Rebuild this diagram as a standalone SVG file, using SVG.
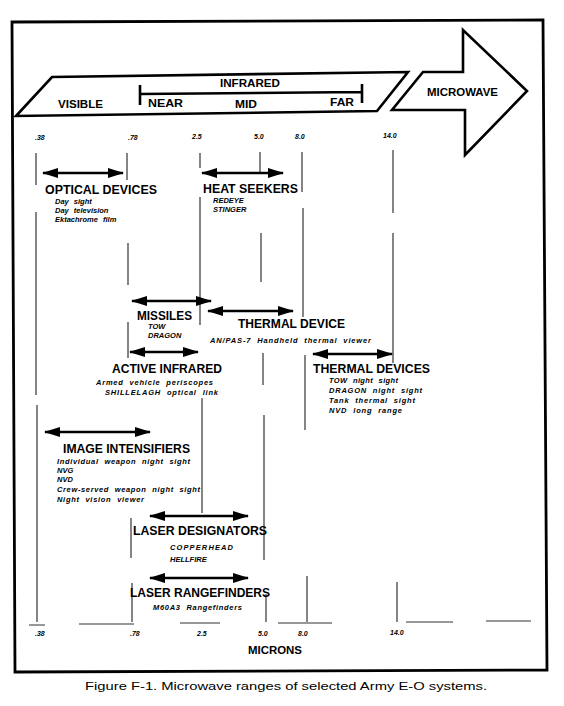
<svg xmlns="http://www.w3.org/2000/svg" width="564" height="706" viewBox="0 0 564 706">
<style>
.h{font-family:"Liberation Sans",Arial,sans-serif;font-weight:bold;font-size:12px;fill:#000}
.b{font-family:"Liberation Sans",Arial,sans-serif;font-weight:bold;font-size:11px;fill:#000}
.i{font-family:"Liberation Sans",Arial,sans-serif;font-weight:bold;font-style:italic;font-size:7.5px;word-spacing:3px;fill:#000}
.t{font-family:"Liberation Sans",Arial,sans-serif;font-weight:bold;font-style:italic;font-size:7px;fill:#000}
.cap{font-family:"Liberation Sans",Arial,sans-serif;font-size:11.5px;fill:#000}
.g{stroke:#222;stroke-width:1.1;fill:none}
.ax{stroke:#333;stroke-width:1.2;fill:none}
.arr{stroke:#000;stroke-width:2.6;fill:none;marker-start:url(#ah);marker-end:url(#ah)}
.shape{fill:#fff;stroke:#000;stroke-width:2.6;stroke-linejoin:miter}
</style>
<defs>
<marker id="ah" viewBox="0 0 16 10" refX="15" refY="5" markerWidth="16" markerHeight="10" markerUnits="userSpaceOnUse" orient="auto-start-reverse">
<path d="M0,0 L16,5 L0,10 z" fill="#000"/>
</marker>
</defs>
<rect width="564" height="706" fill="#fff"/>

<g id="frame">
<polygon points="12,22 543,20 547,670 15,672" fill="none" stroke="#000" stroke-width="2.8"/>
</g>

<g id="spectrum-band">
<polygon class="shape" points="52,77 408,72 377,111 16,116"/>
<path d="M140,85 V105 M140,94 L362,92 M362,84 V103" stroke="#000" stroke-width="2.6" fill="none"/>
<text class="b" x="58" y="108" textLength="45" lengthAdjust="spacingAndGlyphs">VISIBLE</text>
<text class="b" x="220" y="87" textLength="60" lengthAdjust="spacingAndGlyphs">INFRARED</text>
<text class="b" x="148" y="107" textLength="35" lengthAdjust="spacingAndGlyphs">NEAR</text>
<text class="b" x="235" y="108" textLength="22" lengthAdjust="spacingAndGlyphs">MID</text>
<text class="b" x="330" y="106" textLength="24" lengthAdjust="spacingAndGlyphs">FAR</text>
</g>

<g id="microwave-arrow">
<polygon class="shape" points="423,72 463,72 463,30 527,91 465,155 465,110 392,110"/>
<text class="b" x="427" y="96" textLength="71" lengthAdjust="spacingAndGlyphs">MICROWAVE</text>
</g>

<g id="top-scale">
<text class="t" x="35" y="140">.38</text>
<text class="t" x="128" y="140">.78</text>
<text class="t" x="192" y="139">2.5</text>
<text class="t" x="254" y="139">5.0</text>
<text class="t" x="295" y="139">8.0</text>
<text class="t" x="383" y="138">14.0</text>
</g>

<g id="grid">
<path class="g" d="M36,153 V185 M36,212 V395 M37,405 V622"/>
<path class="g" d="M127,153 V180 M128,243 V285 M128,322 V358 M131,518 V558 M132,583 V622"/>
<path class="g" d="M200,153 V168 M200,197 V325 M202,398 V513"/>
<path class="g" d="M260,152 V174 M261,233 V282 M263,353 V385 M264,415 V560 M266,594 V622"/>
<path class="g" d="M302,152 V192 M303,208 V317 M305,355 V430 M307,576 V622"/>
<path class="g" d="M393,150 V213 M393,233 V363 M397,582 V622"/>
<path class="ax" d="M29,625 H45 M79,624 H134 M180,623 H220 M278,623 H332 M406,622 H453 M486,621 H531"/>
</g>

<g id="connectors">
<line class="arr" x1="43" y1="173" x2="123" y2="173"/>
<line class="arr" x1="202" y1="173" x2="283" y2="173"/>
<line class="arr" x1="132" y1="301" x2="211" y2="301"/>
<line class="arr" x1="208" y1="311" x2="293" y2="311"/>
<line class="arr" x1="130" y1="352" x2="198" y2="352"/>
<line class="arr" x1="313" y1="354" x2="392" y2="354"/>
<line class="arr" x1="45" y1="432" x2="150" y2="432"/>
<line class="arr" x1="150" y1="516" x2="248" y2="516"/>
<line class="arr" x1="150" y1="578" x2="248" y2="578"/>
</g>

<g id="optical-devices">
<text class="h" x="45" y="194" textLength="112" lengthAdjust="spacingAndGlyphs">OPTICAL DEVICES</text>
<text class="i" x="55" y="204">Day sight</text>
<text class="i" x="55" y="213">Day television</text>
<text class="i" x="55" y="222">Ektachrome film</text>
</g>

<g id="heat-seekers">
<text class="h" x="203" y="193" textLength="95" lengthAdjust="spacingAndGlyphs">HEAT SEEKERS</text>
<text class="i" x="213" y="203">REDEYE</text>
<text class="i" x="213" y="212">STINGER</text>
</g>

<g id="missiles">
<text class="h" x="137" y="320" textLength="55" lengthAdjust="spacingAndGlyphs">MISSILES</text>
<text class="i" x="148" y="329">TOW</text>
<text class="i" x="148" y="338">DRAGON</text>
</g>

<g id="thermal-device">
<text class="h" x="238" y="328" textLength="107" lengthAdjust="spacingAndGlyphs">THERMAL DEVICE</text>
<text class="i" x="210" y="343" textLength="161" lengthAdjust="spacing">AN/PAS-7 Handheld thermal viewer</text>
</g>

<g id="active-infrared">
<text class="h" x="112" y="373" textLength="110" lengthAdjust="spacingAndGlyphs">ACTIVE INFRARED</text>
<text class="i" x="96" y="385" textLength="117" lengthAdjust="spacing">Armed vehicle periscopes</text>
<text class="i" x="105" y="395" textLength="113" lengthAdjust="spacing">SHILLELAGH optical link</text>
</g>

<g id="thermal-devices">
<text class="h" x="313" y="373" textLength="117" lengthAdjust="spacingAndGlyphs">THERMAL DEVICES</text>
<text class="i" x="329" y="383" textLength="69" lengthAdjust="spacing">TOW night sight</text>
<text class="i" x="329" y="393" textLength="93" lengthAdjust="spacing">DRAGON night sight</text>
<text class="i" x="329" y="403" textLength="86" lengthAdjust="spacing">Tank thermal sight</text>
<text class="i" x="329" y="413" textLength="73" lengthAdjust="spacing">NVD long range</text>
</g>

<g id="image-intensifiers">
<text class="h" x="63" y="453" textLength="127" lengthAdjust="spacingAndGlyphs">IMAGE INTENSIFIERS</text>
<text class="i" x="57" y="464" textLength="133" lengthAdjust="spacing">Individual weapon night sight</text>
<text class="i" x="57" y="473">NVG</text>
<text class="i" x="57" y="482">NVD</text>
<text class="i" x="57" y="492" textLength="143" lengthAdjust="spacing">Crew-served weapon night sight</text>
<text class="i" x="57" y="502" textLength="87" lengthAdjust="spacing">Night vision viewer</text>
</g>

<g id="laser-designators">
<text class="h" x="133" y="535" textLength="134" lengthAdjust="spacingAndGlyphs">LASER DESIGNATORS</text>
<text class="i" x="170" y="550" textLength="63" lengthAdjust="spacing">COPPERHEAD</text>
<text class="i" x="170" y="562">HELLFIRE</text>
</g>

<g id="laser-rangefinders">
<text class="h" x="130" y="597" textLength="140" lengthAdjust="spacingAndGlyphs">LASER RANGEFINDERS</text>
<text class="i" x="153" y="610" textLength="89" lengthAdjust="spacing">M60A3 Rangefinders</text>
</g>

<g id="bottom-scale">
<text class="t" x="35" y="636">.38</text>
<text class="t" x="130" y="636">.78</text>
<text class="t" x="197" y="636">2.5</text>
<text class="t" x="258" y="636">5.0</text>
<text class="t" x="298" y="636">8.0</text>
<text class="t" x="390" y="635">14.0</text>
<text class="b" x="248" y="654" textLength="54" lengthAdjust="spacingAndGlyphs">MICRONS</text>
</g>

<g id="caption">
<text class="cap" x="85" y="690" textLength="402" lengthAdjust="spacingAndGlyphs">Figure F-1.  Microwave ranges of selected Army E-O systems.</text>
</g>
</svg>
